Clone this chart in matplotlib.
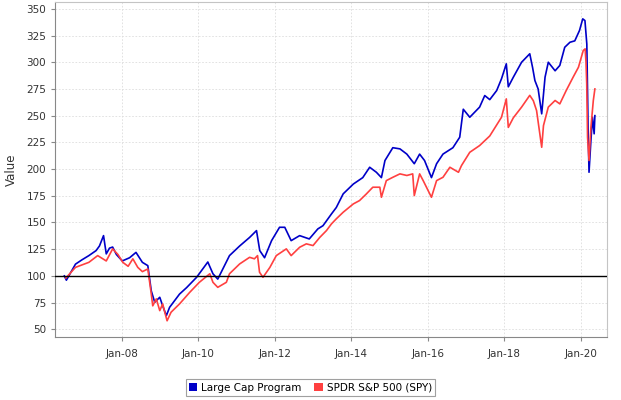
import matplotlib
matplotlib.use("Agg")
import matplotlib.pyplot as plt
import matplotlib.dates as mdates
from matplotlib.patches import Patch
import pandas as pd

# Large Cap Program
lc_dates = ['2006-07-01', '2006-07-20', '2006-10-15', '2006-12-15', '2007-02-20', '2007-04-30',
            '2007-06-01', '2007-07-10', '2007-08-05', '2007-09-05', '2007-10-05', '2007-11-10',
            '2008-01-05', '2008-03-15', '2008-05-15', '2008-07-15', '2008-09-05', '2008-10-08',
            '2008-11-10', '2008-12-28', '2009-01-25', '2009-03-01', '2009-04-01', '2009-07-05',
            '2009-09-10', '2009-12-15', '2010-04-01', '2010-05-20', '2010-07-05', '2010-10-25',
            '2011-01-30', '2011-05-05', '2011-07-10', '2011-08-10', '2011-09-25', '2011-12-01',
            '2012-02-15', '2012-04-05', '2012-06-05', '2012-08-25', '2012-11-25', '2013-02-15',
            '2013-04-05', '2013-06-25', '2013-08-10', '2013-10-15', '2014-01-20', '2014-04-20',
            '2014-06-25', '2014-08-28', '2014-10-15', '2014-11-18', '2015-02-01', '2015-04-10',
            '2015-06-15', '2015-08-25', '2015-10-15', '2015-12-01', '2016-02-05', '2016-03-25',
            '2016-05-25', '2016-08-28', '2016-11-01', '2016-12-05', '2017-02-05', '2017-05-10',
            '2017-06-28', '2017-08-15', '2017-10-20', '2017-12-05', '2018-01-20', '2018-02-08',
            '2018-03-28', '2018-06-15', '2018-09-01', '2018-09-28', '2018-10-20', '2018-11-20',
            '2018-12-24', '2019-01-25', '2019-02-25', '2019-05-01', '2019-06-15', '2019-08-01',
            '2019-09-20', '2019-11-05', '2019-12-20', '2020-01-20', '2020-02-10', '2020-02-28',
            '2020-03-12', '2020-03-20', '2020-04-07', '2020-04-22', '2020-05-08', '2020-05-15']
lc_values = [100, 96, 111, 115, 119, 123.7,
             128, 137.7, 120.6, 126, 127, 120,
             114, 117, 122, 112.7, 109.6, 86,
             75.3, 80, 72, 62.8, 70.6, 83,
             89, 98.7, 113, 102, 97, 119,
             128, 136, 142.4, 123.7, 117, 133,
             145.5, 145.5, 133, 137.7, 134.6, 144,
             147, 158, 164, 176.8, 186, 192,
             201.7, 197, 192, 208, 220, 218.9,
             214, 205, 214, 208, 192, 205,
             214, 220, 229.8, 256, 248.5, 258,
             268.8, 265, 273.5, 284.5, 298.5, 277,
             286, 300, 307.9, 295, 282.9, 275,
             251.7, 286, 300, 292, 297, 314,
             318.7, 320, 329.7, 340.6, 339, 317,
             233, 197, 226.7, 248.5, 233, 250]

# SPDR S&P 500 (SPY)
spy_dates = ['2006-07-15', '2006-10-15', '2007-02-20', '2007-05-15', '2007-08-05', '2007-10-05',
             '2007-11-25', '2008-01-10', '2008-03-01', '2008-04-15', '2008-06-01', '2008-07-15',
             '2008-09-05', '2008-10-08', '2008-10-22', '2008-11-25', '2008-12-28', '2009-01-25',
             '2009-02-10', '2009-03-08', '2009-04-15', '2009-07-05', '2009-10-10', '2010-01-10',
             '2010-04-20', '2010-05-20', '2010-07-05', '2010-09-25', '2010-10-25', '2011-01-30',
             '2011-05-05', '2011-06-20', '2011-07-20', '2011-08-08', '2011-09-10', '2011-11-15',
             '2012-01-15', '2012-04-20', '2012-06-05', '2012-08-25', '2012-10-28', '2012-12-31',
             '2013-03-05', '2013-05-08', '2013-06-25', '2013-08-10', '2013-10-15', '2014-01-20',
             '2014-03-20', '2014-05-25', '2014-07-25', '2014-09-30', '2014-10-15', '2014-12-01',
             '2015-02-01', '2015-04-10', '2015-06-15', '2015-08-10', '2015-08-25', '2015-10-15',
             '2015-11-18', '2016-02-05', '2016-03-25', '2016-05-25', '2016-07-30', '2016-10-20',
             '2016-11-18', '2017-02-05', '2017-05-10', '2017-08-15', '2017-12-05', '2018-01-20',
             '2018-02-08', '2018-03-28', '2018-06-15', '2018-09-01', '2018-10-05', '2018-11-05',
             '2018-12-24', '2019-01-10', '2019-02-25', '2019-05-01', '2019-06-15', '2019-08-15',
             '2019-10-20', '2019-12-10', '2020-01-25', '2020-02-12', '2020-02-20', '2020-02-27',
             '2020-03-06', '2020-03-20', '2020-04-07', '2020-04-30', '2020-05-15']
spy_values = [98, 108, 112.7, 119, 114, 125.3,
              120, 112.7, 109, 116, 108, 104,
              106.5, 83, 72, 78.5, 67.5, 73.8,
              67.5, 58, 66, 73.8, 84.6, 94,
              102, 94, 89.3, 94, 102, 111.2,
              117.4, 116, 119, 103.4, 98.7, 108,
              119, 125.3, 119, 126.8, 130, 128.4,
              136, 142.4, 148.7, 153.4, 159.6, 167.4,
              170.5, 176.8, 183, 183, 173.6, 189.2,
              192.3, 195.5, 194, 195.5, 175.2, 195.5,
              189.2, 173.6, 189.2, 192.3, 201.7, 197,
              203.3, 215.7, 222, 231, 248.5, 265.7,
              239, 248, 258, 269, 264, 254.8,
              220.4, 240.7, 258, 264.2, 261, 273.5,
              286, 295.3, 311, 312.5, 300, 279.8,
              229.8, 208, 239, 264.2, 275]

series_names = ['Large Cap Program', 'SPDR S&P 500 (SPY)']
series_colors = ['#0000c8', '#ff4040']

plt.rcParams['font.family'] = 'DejaVu Sans'
fig = plt.figure(figsize=(6.21, 4.0), dpi=100)
ax = fig.add_axes([0.089, 0.158, 0.888, 0.836])

ax.plot(pd.to_datetime(lc_dates), lc_values, color=series_colors[0], lw=1.2, zorder=2)
ax.plot(pd.to_datetime(spy_dates), spy_values, color=series_colors[1], lw=1.2, zorder=2.1)
ax.axhline(100, color='black', lw=1.0, zorder=3)

ax.set_xlim(pd.Timestamp('2006-04-05'), pd.Timestamp('2020-09-05'))
ax.set_ylim(43, 356)
ax.set_yticks(range(50, 351, 25))
ax.xaxis.set_major_locator(mdates.YearLocator(2, month=1, day=1))
ax.xaxis.set_major_formatter(mdates.DateFormatter('%b-%y'))

ax.grid(True, color='#dddddd', linestyle=(0, (2, 2)), lw=0.6)
ax.set_axisbelow(True)
for side in ['left', 'bottom']:
    ax.spines[side].set_color('#888888')
for side in ['top', 'right']:
    ax.spines[side].set_color('#c4c4c4')
ax.tick_params(axis='both', colors='#888888', labelcolor='#333333', labelsize=7.5,
               length=3, width=0.8)
ax.tick_params(axis='x', pad=6)
ax.set_ylabel('Value', fontsize=8.5, color='#333333', labelpad=6)

handles = [Patch(facecolor=c, edgecolor='none') for c in series_colors]
leg = fig.legend(handles, series_names, loc='center', bbox_to_anchor=(0.5, 0.031),
                 ncol=2, fontsize=7.5, frameon=True, fancybox=False,
                 handlelength=0.8, handleheight=0.8, handletextpad=0.4,
                 columnspacing=1.2, borderpad=0.3, borderaxespad=0)
leg.get_frame().set_edgecolor('#888888')
leg.get_frame().set_linewidth(0.8)

fig.savefig('out.png', dpi=100)
